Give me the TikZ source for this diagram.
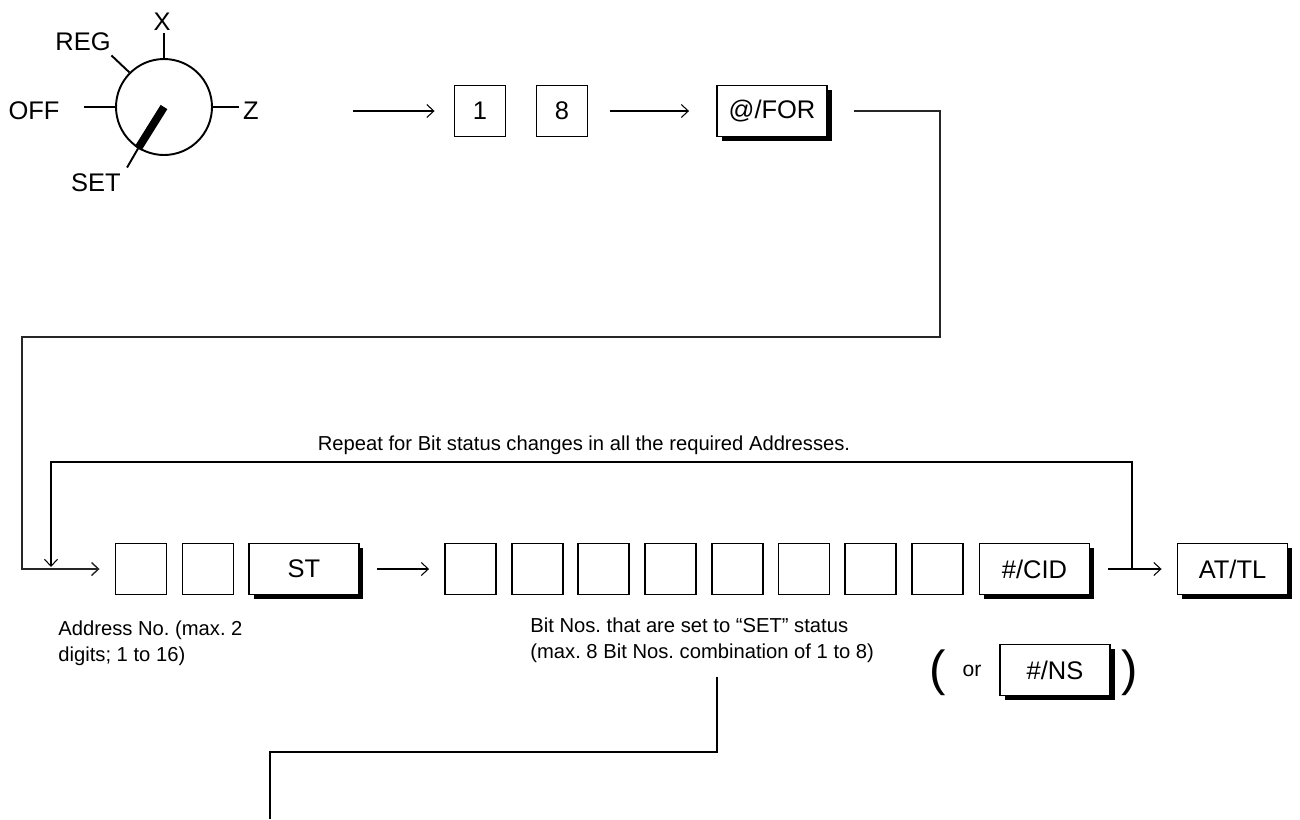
\documentclass[tikz,border=0pt]{standalone}
\usepackage{fontspec}
\setmainfont{Liberation Sans}
\usetikzlibrary{arrows.meta,shadows}
\frenchspacing

\newcommand{\keyfont}{\fontsize{14.5}{17}\selectfont}
\newcommand{\notefont}{\fontsize{11.5}{15}\selectfont}

\tikzset{
  key/.style={draw, line width=1.1pt, fill=white, minimum width=1.02cm, minimum height=1.02cm, inner sep=0pt, font=\keyfont},
  fkey/.style={key, minimum width=2.2cm, drop shadow={shadow xshift=0.09cm, shadow yshift=-0.09cm, fill=black, opacity=1}},
  note/.style={font=\notefont, inner sep=0pt},
  flow/.style={line width=0.6pt},
}

\begin{document}
\begin{tikzpicture}[x=0.02cm, y=-0.02cm, >={Straight Barb[length=1.4mm,width=2.6mm]}]
    \useasboundingbox (0,0) rectangle (1300,819);

    % Mode switch
    \node[circle, draw, line width=1.1pt, minimum size=1.92cm, inner sep=0pt] (dial) at (164,107) {};
    \draw[line width=1.1pt] (dial.north) -- ++(0,-25);
    \draw[line width=1.1pt] (dial.east) -- ++(26,0);
    \draw[line width=1.1pt] (dial.west) -- ++(-31,0);
    \draw[line width=1.1pt] (dial.135) -- ++(-18,-17);
    \draw[line width=4.5pt] (dial.center) -- (dial.238);
    \draw[line width=1.1pt] (dial.238) -- ++(-11,19);
    \node[font=\keyfont] (lX) at (162,22) {X};
    \node[font=\keyfont] (lREG) at (83,42) {REG};
    \node[font=\keyfont] (lOFF) at (34,111) {OFF};
    \node[font=\keyfont] (lZ) at (251,111) {Z};
    \node[font=\keyfont] (lSET) at (96,183) {SET};

    % First key sequence
    \coordinate (dialout) at (353,111);
    \node[key] (k1) at (480,111) {1};
    \node[key] (k8) at (562,111) {8};
    \node[fkey] (kfor) at (772,111) {@/FOR};
    \draw[flow,->] (dialout) -- ([xshift=-0.38cm]k1.west);
    \draw[flow,->] ([xshift=0.44cm]k8.east) -- ([xshift=-0.54cm]kfor.west);

    % Address and bit keys
    \node[key] (a1) at (141,569) {};
    \node[key] (a2) at (208,569) {};
    \node[fkey] (st) at (304,569) {ST};
    \foreach \i in {1,...,8} {
        \node[key] (b\i) at ({470.5+66.7*(\i-1)},569) {};
    }
    \node[fkey] (cid) at (1034.5,569) {\#/CID};
    \node[fkey] (atl) at (1232.5,569) {AT/TL};

    \draw[flow,->,line width=0.8pt,black!85] ([xshift=0.52cm]kfor.east) -| (940,337) -| (22,569) -- ([xshift=-0.3cm]a1.west);
    \draw[flow,->] ([xshift=0.34cm]st.east) -- ([xshift=-0.3cm]b1.west);
    \draw[flow,->] ([xshift=0.36cm]cid.east) -- ([xshift=-0.3cm]atl.west);

    % Repeat loop
    \coordinate (loopR) at (1132,569);
    \coordinate (loopL) at (51,567);
    \draw[flow,->] (loopR) -- ++(0,-107) -| (loopL);
    \node[note, anchor=base] (repeat) at (584,450) {Repeat for Bit status changes in all the required Addresses.};

    % Notes
    \node[note, anchor=north west, align=left] (addr) at (58,620) {Address No. (max. 2\\digits; 1 to 16)};
    \node[note, anchor=north west, align=left] (bits) at (530,617) {Bit Nos. that are set to “SET” status\\(max. 8 Bit Nos. combination of 1 to 8)};

    % Alternative key
    \node[inner sep=0pt, font=\fontsize{28}{32}\selectfont] (lp) at (938,673) {(};
    \node[inner sep=0pt, font=\fontsize{12}{14}\selectfont] (lor) at (972,671) {or};
    \node[fkey] (kns) at (1055,670) {\#/NS};
    \node[inner sep=0pt, font=\fontsize{28}{32}\selectfont] (rp) at (1130,673) {)};

    % Continuation
    \coordinate (jA) at (717,677);
    \coordinate (jB) at (270,819);
    \draw[line width=1.1pt] (jA) -- (717,752) -- (270,752) -- (jB);
\end{tikzpicture}
\end{document}
